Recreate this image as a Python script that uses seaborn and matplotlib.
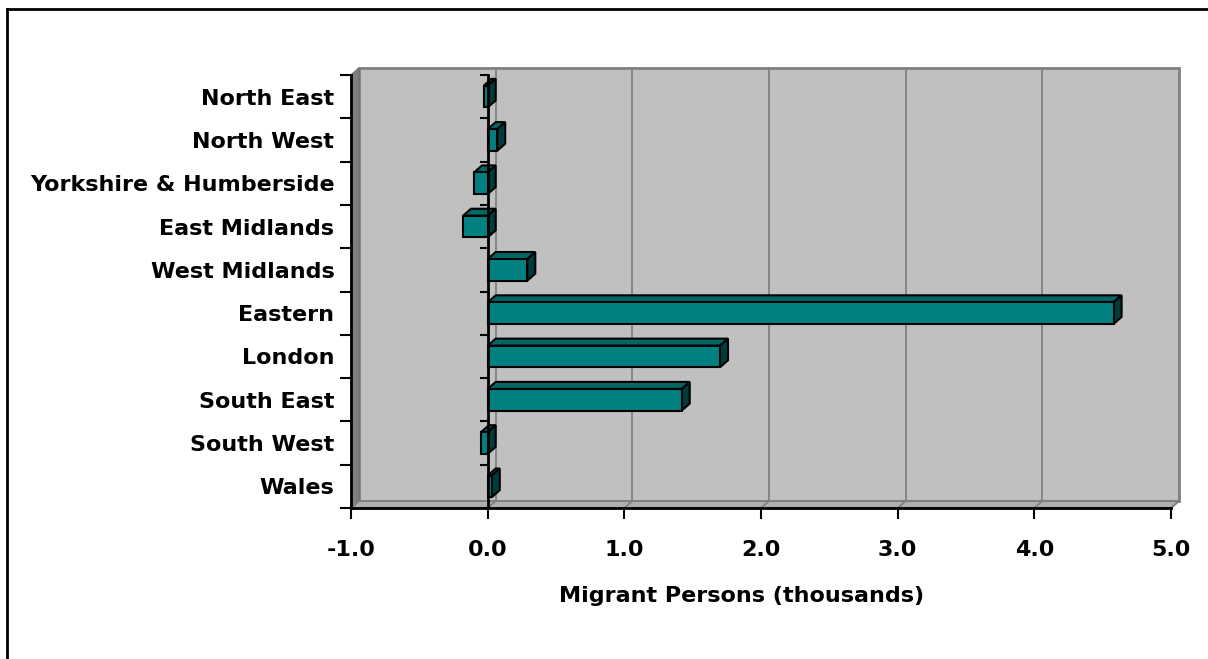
import pandas as pd
import matplotlib.pyplot as plt
import seaborn as sns
from matplotlib.patches import Polygon, Rectangle
from matplotlib.lines import Line2D

# Datos del grafico
regions = ['North East', 'North West', 'Yorkshire & Humberside', 'East Midlands',
           'West Midlands', 'Eastern', 'London', 'South East', 'South West', 'Wales']
migrants = [-0.03, 0.07, -0.10, -0.18, 0.29, 4.58, 1.70, 1.42, -0.05, 0.03]
x_ticks = [-1.0, 0.0, 1.0, 2.0, 3.0, 4.0, 5.0]

df = pd.DataFrame({'region': regions, 'migrants': migrants})

W, H = 1208, 659
fig = plt.figure(figsize=(W / 100, H / 100), dpi=100)
ax = fig.add_axes([351 / W, 1 - 508 / H, 820 / W, 433 / H])
ax.set_facecolor('none')

sns.barplot(ax=ax, data=df, x='migrants', y='region', orient='h', color='#008080',
            width=0.5, edgecolor='black', linewidth=1.5, saturation=1)
for p in ax.patches:
    p.set_zorder(4)

xmin, xmax = x_ticks[0], x_ticks[-1]
ymin, ymax = -0.5, len(regions) - 0.5
ax.set_xlim(xmin, xmax)
ax.set_ylim(ymax, ymin)

# profundidad 3D (pixeles -> unidades de datos)
ppx = 820 / (xmax - xmin)
ppy = 433 / (ymax - ymin)
ddx, ddy = 8 / ppx, 7 / ppy

# paredes
ax.add_patch(Rectangle((xmin + ddx, ymin - ddy), xmax - xmin, ymax - ymin,
                       facecolor='#C0C0C0', edgecolor='#808080', lw=2, zorder=0, clip_on=False))
ax.add_patch(Polygon([(xmin, ymax), (xmin, ymin), (xmin + ddx, ymin - ddy), (xmin + ddx, ymax - ddy)],
                     closed=True, facecolor='#808080', edgecolor='#707070', lw=1, zorder=0.5, clip_on=False))
ax.add_patch(Polygon([(xmin, ymax), (xmax, ymax), (xmax + ddx, ymax - ddy), (xmin + ddx, ymax - ddy)],
                     closed=True, facecolor='#B0B0B0', edgecolor='#808080', lw=1.5, zorder=0.5, clip_on=False))

# lineas de cuadricula en la pared del fondo
for v in x_ticks[1:-1]:
    ax.plot([v + ddx, v + ddx], [ymin - ddy, ymax - ddy], color='#808080', lw=1.3, zorder=1, clip_on=False)
    ax.plot([v + ddx, v], [ymax - ddy, ymax], color='#808080', lw=1.3, zorder=1, clip_on=False)

# caras superior y lateral de las barras
h = 0.25
for i, v in enumerate(migrants):
    x0, x1 = min(0, v), max(0, v)
    ax.add_patch(Polygon([(x0, i - h), (x1, i - h), (x1 + ddx, i - h - ddy), (x0 + ddx, i - h - ddy)],
                         closed=True, facecolor='#006666', edgecolor='black', lw=1.5, zorder=3, clip_on=False))
    ax.add_patch(Polygon([(x1, i - h), (x1, i + h), (x1 + ddx, i + h - ddy), (x1 + ddx, i - h - ddy)],
                         closed=True, facecolor='#003C3C', edgecolor='black', lw=1.5, zorder=3, clip_on=False))

# eje en cero con marcas
bounds = [ymin + k for k in range(len(regions) + 1)]
ax.plot([0, 0], [ymin, ymax], color='black', lw=2, zorder=5, clip_on=False)
ax.hlines(bounds, -8 / ppx, 0, color='black', lw=1.5, zorder=5, clip_on=False)

# ejes
for s in ['top', 'right']:
    ax.spines[s].set_visible(False)
for s in ['left', 'bottom']:
    ax.spines[s].set_linewidth(2)
    ax.spines[s].set_zorder(5)
ax.set_xticks(x_ticks)
ax.set_xticklabels([f'{t:.1f}' for t in x_ticks], fontsize=16, fontweight='bold')
ax.set_yticks(range(len(regions)))
ax.set_yticklabels(regions, fontsize=16, fontweight='bold')
ax.set_yticks(bounds, minor=True)
ax.tick_params(axis='y', which='major', length=0, pad=12)
ax.tick_params(axis='y', which='minor', length=8, width=1.5)
ax.tick_params(axis='x', length=8, width=1.5, pad=15)
ax.set_ylabel('')
ax.set_xlabel('Migrant Persons (thousands)', fontsize=16, fontweight='bold')
ax.xaxis.set_label_coords((742 - 351) / 820, (508 - 586) / 433)

# borde del grafico
fig.add_artist(Line2D([7.5 / W, 7.5 / W], [0, 1 - 8.5 / H], color='black', lw=2))
fig.add_artist(Line2D([7.5 / W, 1], [1 - 8.5 / H, 1 - 8.5 / H], color='black', lw=2))

plt.savefig('out.png', dpi=100)
